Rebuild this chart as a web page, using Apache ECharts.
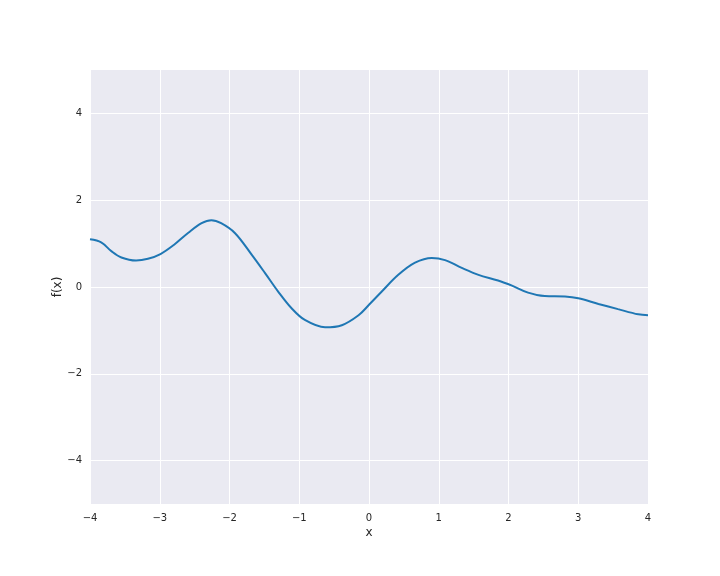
<!DOCTYPE html>
<html>
<head>
<meta charset="utf-8">
<script src="https://cdn.jsdelivr.net/npm/echarts@6/dist/echarts.min.js"></script>
<style>html,body{margin:0;padding:0;background:#fff;}#c{width:720px;height:576px;}</style>
</head>
<body>
<div id="c"></div>
<script>
var xValues = [-4.0, -3.84, -3.69, -3.55, -3.34, -3.17, -2.99, -2.79, -2.59, -2.40, -2.26, -2.12, -1.92, -1.68, -1.49, -1.30, -1.11, -0.92, -0.63, -0.39, -0.15, 0.0, 0.18, 0.42, 0.66, 0.90, 1.09, 1.33, 1.57, 1.85, 2.05, 2.28, 2.52, 2.81, 3.00, 3.29, 3.57, 3.86, 4.0];
var yValues = [1.10, 1.03, 0.82, 0.68, 0.61, 0.65, 0.76, 0.98, 1.25, 1.47, 1.54, 1.47, 1.24, 0.74, 0.32, -0.11, -0.49, -0.76, -0.93, -0.88, -0.65, -0.41, -0.11, 0.28, 0.56, 0.67, 0.62, 0.44, 0.28, 0.15, 0.03, -0.13, -0.21, -0.22, -0.26, -0.39, -0.51, -0.63, -0.65];
var xTicks = [-4, -3, -2, -1, 0, 1, 2, 3, 4];
var yTicks = [-4, -2, 0, 2, 4];

var data = xValues.map(function (x, i) { return [x, yValues[i]]; });
function fmt(v) { return String(v).replace('-', '\u2212'); }

var chart = echarts.init(document.getElementById('c'), null, { renderer: 'canvas' });
chart.setOption({
  animation: false,
  backgroundColor: '#ffffff',
  grid: { left: 90, right: 72, top: 70, bottom: 72, show: true, backgroundColor: '#EAEAF2', borderWidth: 0 },
  xAxis: {
    type: 'value', min: -4, max: 4, interval: 1,
    name: 'x', nameLocation: 'middle', nameGap: 23, nameMoveOverlap: false,
    nameTextStyle: { fontFamily: 'DejaVu Sans', fontSize: 12, color: '#262626' },
    axisLine: { show: false }, axisTick: { show: false },
    axisLabel: { fontFamily: 'DejaVu Sans', fontSize: 10, color: '#262626', margin: 9,
      formatter: function (v) { return xTicks.indexOf(v) >= 0 ? fmt(v) : ''; } },
    splitLine: { show: true, lineStyle: { color: '#ffffff', width: 1 } }
  },
  yAxis: {
    type: 'value', min: -5, max: 5, interval: 1,
    name: 'f(x)', nameLocation: 'middle', nameGap: 26, nameRotate: 90, nameMoveOverlap: false,
    nameTextStyle: { fontFamily: 'DejaVu Sans', fontSize: 12, color: '#262626' },
    axisLine: { show: false }, axisTick: { show: false },
    axisLabel: { fontFamily: 'DejaVu Sans', fontSize: 10, color: '#262626', margin: 8,
      formatter: function (v) { return yTicks.indexOf(v) >= 0 ? fmt(v) : ''; } },
    splitLine: { show: true, lineStyle: { color: ['rgba(0,0,0,0)', '#ffffff'], width: 1 } }
  },
  series: [{
    type: 'line', data: data, smooth: 0.35, showSymbol: false,
    lineStyle: { color: '#1f77b4', width: 2 }
  }]
});
</script>
</body>
</html>
